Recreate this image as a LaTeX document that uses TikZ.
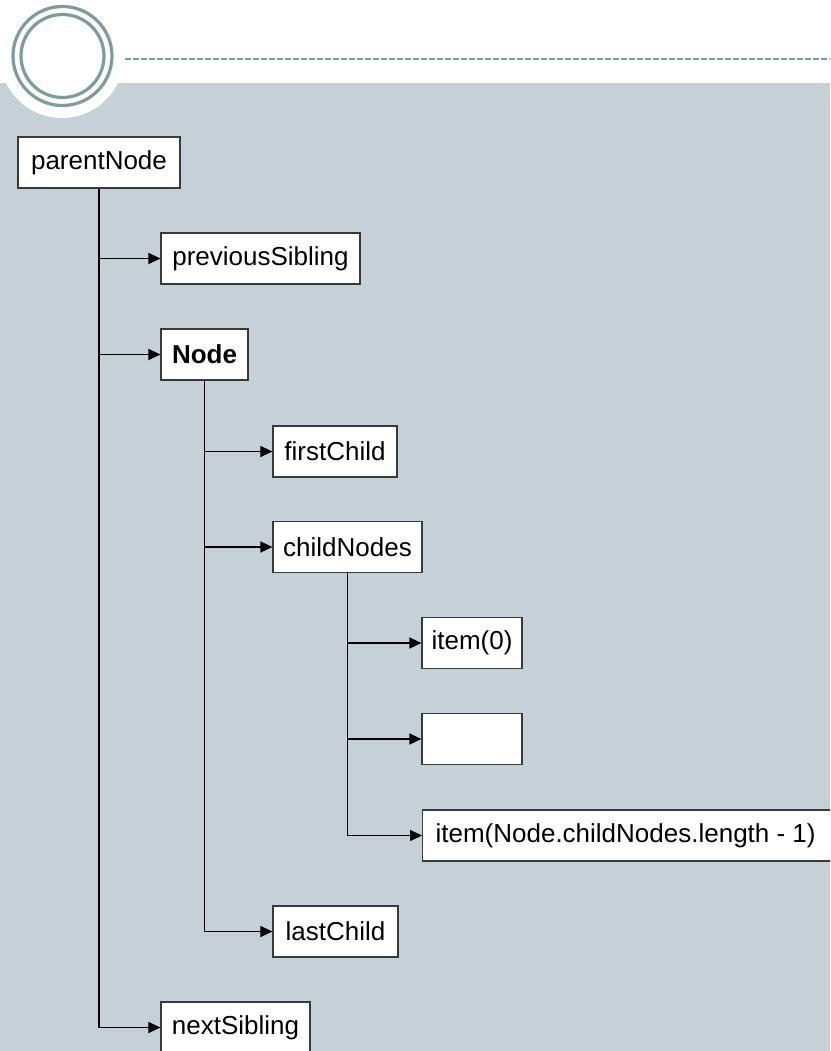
\documentclass[tikz,border=0pt]{standalone}
\usepackage{fontspec}
\setmainfont{Liberation Sans}
\usetikzlibrary{arrows.meta}
\definecolor{bandgray}{HTML}{C5D0D7}
\definecolor{ringteal}{HTML}{7E9C9B}
\definecolor{boxline}{HTML}{3A3A3A}
\tikzset{
  box/.style={draw=boxline, line width=1.2pt, fill=white, minimum height=51pt, inner xsep=0pt, inner ysep=0pt,
    font=\fontsize{26}{30}\selectfont, text=black},
  conn/.style={draw=black, line width=1.3pt},
  arr/.style={conn, -{Triangle[length=12pt,width=11pt]}},
  ring/.style={draw=ringteal, line width=3.2pt}
}
\begin{document}
\begin{tikzpicture}[x=1pt,y=-1pt]
\useasboundingbox (0,0) rectangle (830,1051);
\begin{scope}
\clip (0,0) rectangle (830,1051);
% backgrounds
\fill[white] (0,0) rectangle (830,83);
\fill[bandgray] (0,83) rectangle (830,1051);
\fill[white] (62,56) circle[radius=62];
\draw[ring] (62.5,56) circle[radius=49.5];
\draw[ring] (62.5,56) circle[radius=41.5];
\draw[ringteal, line width=2pt, dash pattern=on 6pt off 2pt] (125,59) -- (830,59);

% nodes
\node[box, minimum width=162pt] (parentNode) at (99,162.5) {parentNode};
\node[box, minimum width=199pt] (previousSibling) at (260.5,258.5) {previousSibling};
\node[box, minimum width=87pt, font=\fontsize{26}{30}\selectfont\bfseries] (node) at (204.5,354.5) {Node};
\node[box, minimum width=124pt] (firstChild) at (335,451.5) {firstChild};
\node[box, minimum width=149pt] (childNodes) at (347.5,547) {childNodes};
\node[box, minimum width=100pt] (item0) at (472,643) {item(0)};
\node[box, minimum width=100pt] (itemdots) at (472,739) {};
\node[box, anchor=west, inner xsep=13pt] (itemlast) at (422,835.5) {item(Node.childNodes.length - 1)\kern25pt};
\node[box, minimum width=125pt] (lastChild) at (335.5,931.5) {lastChild};
\node[box, minimum width=149pt] (nextSibling) at (235.5,1027.5) {nextSibling};

% connectors
\draw[conn] (parentNode.south) -- (parentNode.south |- nextSibling.west);
\draw[arr] (parentNode.south |- previousSibling.west) -- (previousSibling.west);
\draw[arr] (parentNode.south |- node.west) -- (node.west);
\draw[arr] (parentNode.south |- nextSibling.west) -- (nextSibling.west);

\draw[conn] (node.south) -- (node.south |- lastChild.west);
\draw[arr] (node.south |- firstChild.west) -- (firstChild.west);
\draw[arr] (node.south |- childNodes.west) -- (childNodes.west);
\draw[arr] (node.south |- lastChild.west) -- (lastChild.west);

\draw[conn] (childNodes.south) -- (childNodes.south |- itemlast.west);
\draw[arr] (childNodes.south |- item0.west) -- (item0.west);
\draw[arr] (childNodes.south |- itemdots.west) -- (itemdots.west);
\draw[arr] (childNodes.south |- itemlast.west) -- (itemlast.west);
\end{scope}
\end{tikzpicture}
\end{document}
